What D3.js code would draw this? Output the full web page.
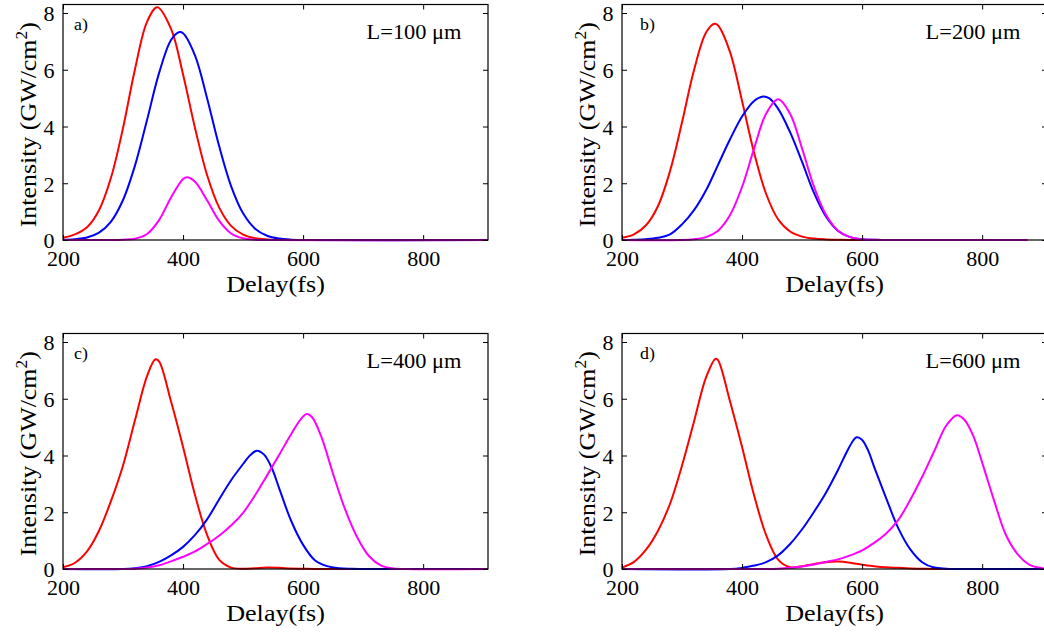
<!DOCTYPE html>
<html>
<head>
<meta charset="utf-8">
<script src="https://cdn.jsdelivr.net/npm/d3@7"></script>
<style>
  body { margin: 0; background: #fff; }
  svg { display: block; }
</style>
</head>
<body>
<svg id="chart" width="1044" height="632"></svg>
<script>
// ---- axis settings ----
const delayDomain = [200, 908];
const intensityDomain = [0, 8.3];
const delayTicks = [200, 400, 600, 800];
const intensityTicks = [0, 2, 4, 6, 8];
const panelTags = ["a)", "b)", "c)", "d)"];
const lengthLabels = ["L=100 \u03bcm", "L=200 \u03bcm", "L=400 \u03bcm", "L=600 \u03bcm"];
const pulseColors = ["#ff0000", "#0000ff", "#ff00ff"];

// ---- pulse intensity profiles: [delay (fs), intensity (GW/cm^2)] ----
// L = 100 um
const redA = [[200,0.08],[220,0.2],[240,0.45],[260,1.05],[280,2.2],[300,3.95],[320,6.03],[340,7.69],[357,8.2],[380,7.44],[400,5.83],[420,3.94],[440,2.29],[460,1.15],[480,0.5],[500,0.19],[520,0.06],[540,0.02],[560,0.005],[580,0],[908,0]];
const blueA = [[200,0.01],[220,0.03],[240,0.09],[260,0.26],[280,0.65],[300,1.41],[320,2.63],[340,4.23],[360,5.88],[380,7.05],[394,7.33],[400,7.29],[420,6.5],[440,5.0],[460,3.32],[480,1.9],[500,0.94],[520,0.4],[540,0.15],[560,0.05],[580,0.013],[600,0],[908,0]];
const magentaA = [[200,0],[280,0],[300,0.01],[320,0.045],[340,0.21],[360,0.7],[380,1.5],[400,2.15],[407,2.21],[420,2.05],[440,1.4],[460,0.68],[480,0.23],[500,0.06],[520,0.01],[540,0],[908,0]];

// L = 200 um
const redB = [[200,0.08],[220,0.2],[240,0.52],[260,1.2],[280,2.43],[300,4.15],[320,5.99],[340,7.31],[354,7.62],[360,7.56],[380,6.62],[400,4.9],[420,3.08],[440,1.63],[460,0.73],[480,0.3],[500,0.12],[520,0.05],[540,0.02],[560,0.005],[580,0],[875,0]];
const blueB = [[200,0],[220,0.01],[240,0.03],[260,0.08],[280,0.2],[300,0.55],[320,1.05],[340,1.75],[360,2.65],[380,3.55],[400,4.35],[420,4.9],[435,5.06],[445,5.0],[460,4.63],[480,3.8],[500,2.75],[520,1.65],[540,0.82],[560,0.32],[580,0.1],[600,0.03],[620,0.005],[640,0],[875,0]];
const magentaB = [[200,0],[300,0],[320,0.025],[340,0.1],[360,0.33],[380,0.88],[400,1.87],[420,3.22],[440,4.45],[460,4.96],[480,4.45],[500,3.22],[520,1.87],[540,0.88],[560,0.33],[580,0.1],[600,0.025],[620,0.005],[640,0],[875,0]];

// L = 400 um
const redC = [[200,0.06],[220,0.22],[240,0.62],[260,1.35],[280,2.4],[300,3.65],[320,5.25],[340,6.8],[354,7.39],[360,7.32],[380,5.9],[400,4.3],[420,2.6],[440,1.2],[460,0.33],[480,0.05],[500,0.01],[520,0.03],[540,0.05],[560,0.04],[580,0.02],[600,0.01],[620,0],[908,0]];
const blueC = [[200,0],[300,0],[320,0.03],[340,0.1],[360,0.25],[380,0.48],[400,0.78],[420,1.2],[440,1.75],[460,2.45],[480,3.13],[500,3.7],[510,3.97],[523,4.17],[535,4.03],[548,3.55],[560,2.85],[580,1.7],[600,0.85],[620,0.3],[640,0.1],[660,0.025],[680,0.005],[700,0],[908,0]];
const magentaC = [[200,0],[300,0],[320,0.01],[340,0.05],[360,0.13],[380,0.27],[400,0.43],[420,0.62],[440,0.88],[460,1.17],[480,1.53],[500,1.98],[520,2.6],[540,3.3],[560,4.02],[580,4.75],[595,5.25],[606,5.46],[615,5.35],[630,4.68],[650,3.35],[670,2.1],[690,1.12],[710,0.45],[730,0.12],[750,0.02],[770,0],[908,0]];

// L = 600 um
const redD = [[200,0.05],[220,0.25],[240,0.68],[260,1.35],[280,2.3],[300,3.65],[320,5.2],[340,6.75],[356,7.41],[360,7.36],[380,5.9],[400,4.3],[420,2.6],[440,1.2],[460,0.33],[480,0.06],[500,0.1],[520,0.18],[540,0.24],[560,0.26],[580,0.22],[600,0.15],[620,0.1],[640,0.06],[660,0.04],[680,0.02],[700,0.01],[720,0],[908,0]];
const blueD = [[200,0],[380,0],[400,0.04],[420,0.12],[440,0.24],[460,0.48],[480,0.88],[500,1.4],[520,2.02],[540,2.7],[560,3.5],[575,4.15],[585,4.52],[591,4.64],[600,4.55],[610,4.18],[620,3.6],[640,2.5],[660,1.45],[680,0.7],[700,0.24],[720,0.05],[740,0.01],[760,0],[908,0]];
const magentaD = [[200,0],[440,0],[460,0.01],[480,0.04],[500,0.09],[520,0.16],[540,0.25],[560,0.34],[580,0.48],[600,0.66],[620,0.92],[640,1.25],[660,1.72],[680,2.43],[700,3.25],[720,4.15],[740,5.05],[758,5.42],[770,5.27],[785,4.7],[800,3.75],[820,2.4],[840,1.18],[860,0.5],[880,0.14],[900,0.03],[908,0.01]];

const panelSeries = [
  [redA, blueA, magentaA],
  [redB, blueB, magentaB],
  [redC, blueC, magentaC],
  [redD, blueD, magentaD]
];

// ---- layout ----
const FONT = "'Liberation Serif', 'Times New Roman', serif";
const plotW = 425, plotH = 235.5;
const frames = [
  { left: 63,  top: 4.5,   tagDx: 11 },
  { left: 622, top: 4.5,   tagDx: 18 },
  { left: 63,  top: 333.5, tagDx: 11 },
  { left: 622, top: 333.5, tagDx: 18 }
];

const svg = d3.select("#chart");

frames.forEach((f, i) => {
  const x = d3.scaleLinear().domain(delayDomain).range([f.left, f.left + plotW]);
  const y = d3.scaleLinear().domain(intensityDomain).range([f.top + plotH, f.top]);
  const g = svg.append("g");

  // pulse curves
  const line = d3.line()
    .x(d => x(d[0]))
    .y(d => Math.min(y(d[1]), y(0)))
    .curve(d3.curveCatmullRom.alpha(0.5));

  panelSeries[i].forEach((series, k) => {
    g.append("path")
      .datum(series)
      .attr("fill", "none")
      .attr("stroke", pulseColors[k])
      .attr("stroke-width", 2)
      .attr("stroke-linejoin", "round")
      .attr("d", line);
  });

  // inward ticks on all four sides
  const styleAxis = sel => {
    sel.select(".domain").remove();
    sel.attr("font-family", FONT).attr("font-size", 21);
    sel.selectAll(".tick line").attr("stroke", "#000").attr("stroke-width", 1);
    sel.selectAll(".tick text").attr("fill", "#000");
  };

  g.append("g")
    .attr("transform", `translate(0,${f.top + plotH})`)
    .call(d3.axisBottom(x).tickValues(delayTicks).tickSize(-5).tickPadding(11.5))
    .call(styleAxis)
    .selectAll(".tick text").attr("transform", "scale(1.05,1)");

  g.append("g")
    .attr("transform", `translate(0,${f.top})`)
    .call(d3.axisTop(x).tickValues(delayTicks).tickSize(-5).tickFormat(""))
    .call(styleAxis);

  g.append("g")
    .attr("transform", `translate(${f.left},0)`)
    .call(d3.axisLeft(y).tickValues(intensityTicks).tickSize(-5).tickPadding(8))
    .call(styleAxis)
    .selectAll(".tick text").attr("dy", "0.38em").attr("transform", "scale(1.05,1)");

  g.append("g")
    .attr("transform", `translate(${f.left + plotW},0)`)
    .call(d3.axisRight(y).tickValues(intensityTicks).tickSize(-5).tickFormat(""))
    .call(styleAxis);

  // box
  g.append("rect")
    .attr("x", f.left).attr("y", f.top)
    .attr("width", plotW).attr("height", plotH)
    .attr("fill", "none").attr("stroke", "#000").attr("stroke-width", 1.2);

  // x axis title
  g.append("text")
    .attr("transform", `translate(${f.left + plotW / 2},${f.top + plotH + 51.5}) scale(1.09,1)`)
    .attr("text-anchor", "middle")
    .attr("font-family", FONT).attr("font-size", 24)
    .text("Delay(fs)");

  // y axis title with superscript
  const yt = g.append("text")
    .attr("transform", `translate(${f.left - 27},${f.top + plotH / 2 + 2.5}) rotate(-90) scale(1.08,1)`)
    .attr("text-anchor", "middle")
    .attr("font-family", FONT).attr("font-size", 24);
  yt.append("tspan").text("Intensity (GW/cm");
  yt.append("tspan").attr("dy", -9).attr("font-size", 16).text("2");
  yt.append("tspan").attr("dy", 9).text(")");

  // panel tag
  g.append("text")
    .attr("transform", `translate(${f.left + f.tagDx},${f.top + 25}) scale(1.05,1)`)
    .attr("font-family", FONT).attr("font-size", 17)
    .text(panelTags[i]);

  // crystal length
  g.append("text")
    .attr("transform", `translate(${f.left + plotW - 26.5},${f.top + 34}) scale(1.12,1)`)
    .attr("text-anchor", "end")
    .attr("font-family", FONT).attr("font-size", 20)
    .text(lengthLabels[i]);
});
</script>
</body>
</html>
